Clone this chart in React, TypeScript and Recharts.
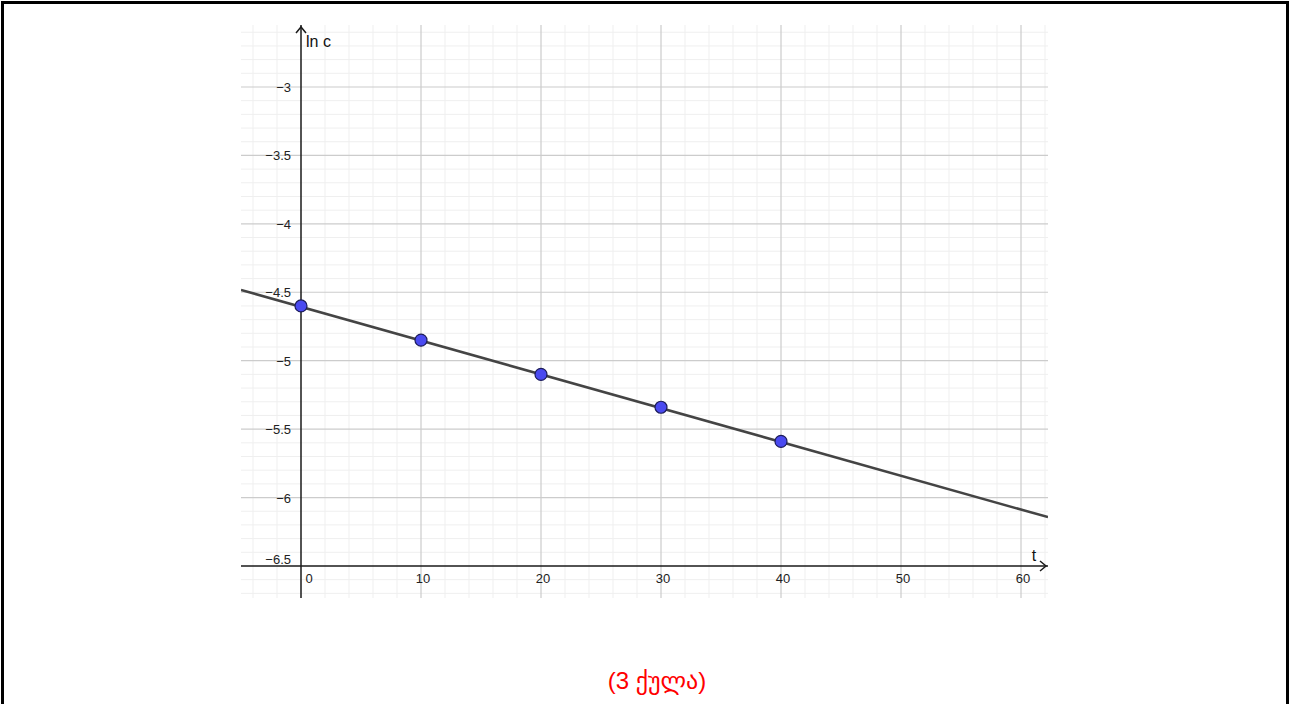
import React from "react";
import {
  ComposedChart,
  XAxis,
  YAxis,
  Line,
  Scatter,
  ReferenceLine,
  ReferenceDot,
} from "recharts";

// measured points (t, ln c)
const tValues = [0, 10, 20, 30, 40];
const lnCValues = [-4.6, -4.85, -5.1, -5.34, -5.59];

// fitted straight line, read at the plot edges
const fitT = [-5, 62.25];
const fitLnC = [-4.483, -6.143];

const xTicks = [0, 10, 20, 30, 40, 50, 60];
const yTicks = [-3, -3.5, -4, -4.5, -5, -5.5, -6, -6.5];

const X_DOMAIN: [number, number] = [-5, 62.25];
const Y_DOMAIN: [number, number] = [-6.734, -2.547];
const X_AXIS_AT = -6.5;

const points = tValues.map((t, i) => ({ t, lnC: lnCValues[i] }));
const fitData = fitT.map((t, i) => ({ t, lnC: fitLnC[i] }));

const minorT: number[] = [];
for (let v = -4; v <= 62; v += 2) if (v % 10 !== 0) minorT.push(v);
const minorY: number[] = [];
for (let k = -67; k <= -26; k++) if (k % 5 !== 0) minorY.push(k / 10);

const tickFont = "Liberation Sans, Arial, sans-serif";
const fmt = (v: number) => String(v).replace("-", "\u2212");

export default function App() {
  return (
    <div
      style={{
        position: "absolute",
        left: 0,
        top: 0,
        width: 1289,
        height: 704,
        background: "#fff",
        overflow: "hidden",
      }}
    >
      <div
        style={{
          position: "absolute",
          left: 1,
          top: 1,
          width: 1282,
          height: 720,
          borderTop: "3px solid #000",
          borderLeft: "3px solid #000",
          borderRight: "3px solid #000",
        }}
      />
      <ComposedChart
        width={1289}
        height={704}
        margin={{ top: 25, right: 241, bottom: 106, left: 241 }}
      >
        <XAxis type="number" dataKey="t" domain={X_DOMAIN} allowDataOverflow hide />
        <YAxis type="number" dataKey="lnC" domain={Y_DOMAIN} allowDataOverflow hide />

        {minorT.map((v) => (
          <ReferenceLine key={"mx" + v} x={v} stroke="#efefef" strokeWidth={1} />
        ))}
        {minorY.map((v) => (
          <ReferenceLine key={"my" + v} y={v} stroke="#efefef" strokeWidth={1} />
        ))}
        {xTicks.filter((v) => v !== 0).map((v) => (
          <ReferenceLine key={"gx" + v} x={v} stroke="#cccccc" strokeWidth={1.2} />
        ))}
        {yTicks.filter((v) => v !== X_AXIS_AT).map((v) => (
          <ReferenceLine key={"gy" + v} y={v} stroke="#cccccc" strokeWidth={1.2} />
        ))}

        <ReferenceLine x={0} stroke="#1a1a1a" strokeWidth={1.5} />
        <ReferenceLine y={X_AXIS_AT} stroke="#1a1a1a" strokeWidth={1.5} />

        {xTicks.map((v) => (
          <ReferenceDot
            key={"xl" + v}
            x={v}
            y={X_AXIS_AT}
            r={0}
            shape={(p: any) => (
              <text
                x={p.cx + (v === 0 ? 8 : 2)}
                y={p.cy + 17}
                textAnchor="middle"
                fontSize={13}
                fontFamily={tickFont}
                fill="#222"
              >
                {fmt(v)}
              </text>
            )}
          />
        ))}
        {yTicks.map((v) => (
          <ReferenceDot
            key={"yl" + v}
            x={0}
            y={v}
            r={0}
            shape={(p: any) => (
              <text
                x={p.cx - 10}
                y={p.cy + (v === X_AXIS_AT ? -2 : 5)}
                textAnchor="end"
                fontSize={13}
                fontFamily={tickFont}
                fill="#222"
              >
                {fmt(v)}
              </text>
            )}
          />
        ))}

        <ReferenceDot
          x={0}
          y={Y_DOMAIN[1]}
          r={0}
          shape={(p: any) => (
            <g>
              <polyline
                points={`${p.cx - 5},${p.cy + 8} ${p.cx},${p.cy + 2} ${p.cx + 5},${p.cy + 8}`}
                fill="none"
                stroke="#1a1a1a"
                strokeWidth={1.5}
              />
              <text
                x={p.cx + 5}
                y={p.cy + 22}
                fontSize={16}
                fontFamily={tickFont}
                fill="#111"
              >
                ln c
              </text>
            </g>
          )}
        />
        <ReferenceDot
          x={X_DOMAIN[1]}
          y={X_AXIS_AT}
          r={0}
          shape={(p: any) => (
            <g>
              <polyline
                points={`${p.cx - 8},${p.cy - 5} ${p.cx - 2},${p.cy} ${p.cx - 8},${p.cy + 5}`}
                fill="none"
                stroke="#1a1a1a"
                strokeWidth={1.5}
              />
              <text
                x={p.cx - 14}
                y={p.cy - 5}
                textAnchor="middle"
                fontSize={16}
                fontFamily={tickFont}
                fill="#111"
              >
                t
              </text>
            </g>
          )}
        />

        <Line
          data={fitData}
          dataKey="lnC"
          type="linear"
          stroke="#444444"
          strokeWidth={2.5}
          dot={false}
          activeDot={false}
          isAnimationActive={false}
        />
        <Scatter
          data={points}
          dataKey="lnC"
          isAnimationActive={false}
          shape={(p: any) => (
            <circle cx={p.cx} cy={p.cy} r={6} fill="#4a4af0" stroke="#1c1c5a" strokeWidth={1.2} />
          )}
        />
      </ComposedChart>
      <div
        style={{
          position: "absolute",
          left: 557,
          top: 666,
          width: 200,
          textAlign: "center",
          color: "#ff0000",
          fontSize: 24,
          lineHeight: "30px",
          fontFamily: "Liberation Sans, DejaVu Sans, sans-serif",
        }}
      >
        (3 ქულა)
      </div>
    </div>
  );
}
